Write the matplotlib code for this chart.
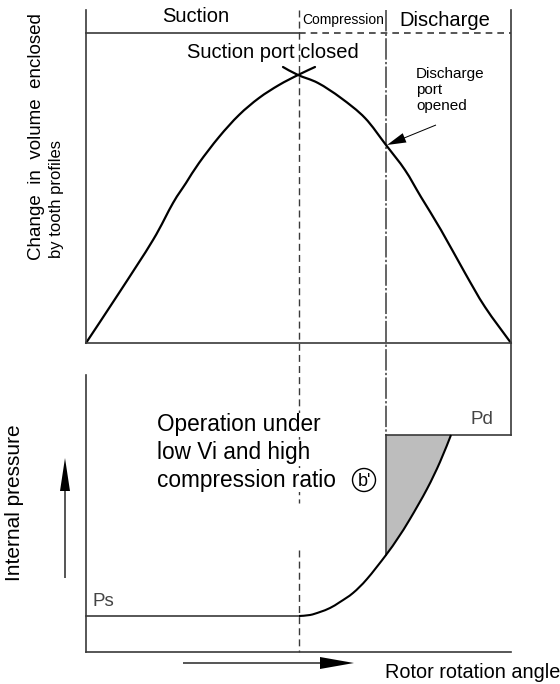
import matplotlib
matplotlib.use("Agg")
import matplotlib.pyplot as plt
from matplotlib.patches import Circle, PathPatch
from matplotlib.path import Path
from matplotlib import font_manager

plt.rcParams["font.family"] = ["Liberation Sans", "DejaVu Sans"]

# ---------------- DATA (pixel units) ----------------
# stage boundaries along the rotor rotation angle
angle_start = 86
suction_closed = 299
discharge_open = 386
angle_end = 511

# volume enclosed by tooth profiles (upper panel), two crossing branches
rise_x = [86, 119, 153, 173, 186, 199, 219, 239, 259, 279, 298, 315]
rise_y = [343, 293, 240, 203, 183, 163, 137, 115, 98, 85, 75, 67]
fall_x = [283, 298, 318, 341, 365, 386, 405, 421, 441, 465, 485, 511]
fall_y = [67, 75, 83, 98, 118, 145, 170, 197, 230, 273, 307, 343]

# internal pressure (lower panel)
ps_level = 616
pd_level = 435
comp_x = [299, 310, 320, 330, 340, 353, 367, 386, 398, 410, 427, 440, 451]
comp_y = [616, 615, 612, 608, 602, 593, 579, 555, 538, 519, 489, 462, 435]

stage_labels = ["Suction", "Compression", "Discharge"]
op_lines = ["Operation under", "low Vi and high", "compression ratio"]


def smooth_path(xs, ys):
    # Catmull-Rom through the read points, drawn as cubic Bezier segments
    pts = list(zip(xs, ys))
    verts = [pts[0]]
    codes = [Path.MOVETO]
    for i in range(len(pts) - 1):
        p0 = pts[i - 1] if i > 0 else pts[i]
        p1 = pts[i]
        p2 = pts[i + 1]
        p3 = pts[i + 2] if i + 2 < len(pts) else pts[i + 1]
        c1 = (p1[0] + (p2[0] - p0[0]) / 6, p1[1] + (p2[1] - p0[1]) / 6)
        c2 = (p2[0] - (p3[0] - p1[0]) / 6, p2[1] - (p3[1] - p1[1]) / 6)
        verts += [c1, c2, p2]
        codes += [Path.CURVE4] * 3
    return Path(verts, codes)


# ---------------- FIGURE ----------------
fig = plt.figure(figsize=(5.6, 6.84), dpi=100)
ax = fig.add_axes([0, 0, 1, 1])
ax.set_xlim(0, 560)
ax.set_ylim(684, 0)
ax.axis("off")

frame = "#3a3a3a"
lw_frame = 1.2

# upper panel frame
ax.plot([angle_start, angle_start], [10, 343], color=frame, lw=lw_frame)
ax.plot([angle_end, angle_end], [10, pd_level], color=frame, lw=lw_frame)
ax.plot([angle_start, angle_end], [343, 343], color=frame, lw=lw_frame)
ax.plot([angle_start, suction_closed], [33, 33], color=frame, lw=lw_frame)
ax.plot([suction_closed, angle_end], [33, 33], color=frame, lw=lw_frame,
        linestyle=(0, (4, 3)))

# stage boundary lines
ax.plot([suction_closed, suction_closed], [10, 503], color=frame, lw=1.0,
        linestyle=(0, (5, 3)), zorder=1)
ax.plot([suction_closed, suction_closed], [550, 652], color=frame, lw=1.0,
        linestyle=(0, (5, 3)), zorder=1)
ax.plot([discharge_open, discharge_open], [10, pd_level], color=frame, lw=1.1,
        linestyle=(0, (14, 1.5, 1.5, 1.5)), zorder=1)

# volume curve
for bx, by in [(rise_x, rise_y), (fall_x, fall_y)]:
    ax.add_patch(PathPatch(smooth_path(bx, by), fill=False, edgecolor="black",
                           lw=1.6, capstyle="round"))

# lower panel axes
ax.plot([angle_start, angle_start], [375, 652], color=frame, lw=lw_frame)
ax.plot([angle_start, angle_end], [652, 652], color=frame, lw=lw_frame)

# pressure curve
ax.plot([angle_start, suction_closed], [ps_level, ps_level], color=frame, lw=lw_frame)
ax.add_patch(PathPatch(smooth_path(comp_x, comp_y), fill=False,
                       edgecolor="black", lw=1.5, zorder=3))
ax.plot([discharge_open, angle_end], [pd_level, pd_level], color=frame, lw=lw_frame)
ax.plot([discharge_open, discharge_open], [pd_level, comp_y[7]], color=frame, lw=lw_frame)

# over-compression area
fill_path = smooth_path(comp_x[7:], comp_y[7:])
fill_verts = list(fill_path.vertices) + [(discharge_open, pd_level), (discharge_open, comp_y[7])]
fill_codes = list(fill_path.codes) + [Path.LINETO, Path.CLOSEPOLY]
ax.add_patch(PathPatch(Path(fill_verts, fill_codes), facecolor="#bdbdbd",
                       edgecolor="none", zorder=0))

# ---------------- TEXT ----------------
ax.text(196, 17, stage_labels[0], fontsize=14.5, ha="center", va="center")
ax.text(302, 20, stage_labels[1], fontsize=10, ha="left", va="center")
ax.text(445, 20, stage_labels[2], fontsize=14.5, ha="center", va="center")
ax.text(273, 52, "Suction port closed", fontsize=14.5, ha="center", va="center")

ax.text(416, 90, "Discharge\nport\nopened", fontsize=11, ha="left", va="center",
        linespacing=1.15)
ax.arrow(436, 125, 387 - 436, 145 - 125, width=1.0, head_width=10,
         head_length=19, length_includes_head=True, color="black", lw=0)

ax.text(37, 137, "Change  in  volume  enclosed", fontsize=13.5, rotation=90,
        ha="center", va="center")
narrow = ["Liberation Sans Narrow", "Liberation Sans"]
have_narrow = any(f.name == "Liberation Sans Narrow" for f in font_manager.fontManager.ttflist)
ax.text(56, 258, "by tooth profiles", fontsize=13.5 if have_narrow else 12,
        rotation=90, ha="center", va="bottom", family=narrow)

for i, line in enumerate(op_lines):
    ax.text(157, 425 + 27.5 * i, line, fontsize=16.3, ha="left", va="center",
            bbox=dict(facecolor="white", edgecolor="none", pad=0.5))
ax.add_patch(Circle((364, 480), 11.5, fill=False, edgecolor="black", lw=1.0))
ax.text(364, 481, "b'", fontsize=13, ha="center", va="center")

ax.text(93, 602, "Ps", fontsize=13.5, color="#444444", ha="left", va="center")
ax.text(471, 420, "Pd", fontsize=13.5, color="#444444", ha="left", va="center")

ax.text(15, 503, "Internal pressure", fontsize=15, rotation=90,
        ha="center", va="center")
ax.arrow(65, 578, 0, 458 - 578, width=1.3, head_width=10, head_length=33,
         length_includes_head=True, color="black", lw=0)
ax.arrow(183, 663, 354 - 183, 0, width=1.3, head_width=12, head_length=34,
         length_includes_head=True, color="black", lw=0)
ax.text(560, 672, "Rotor rotation angle", fontsize=14.3, ha="right", va="center")

fig.savefig("out.png", dpi=100)
